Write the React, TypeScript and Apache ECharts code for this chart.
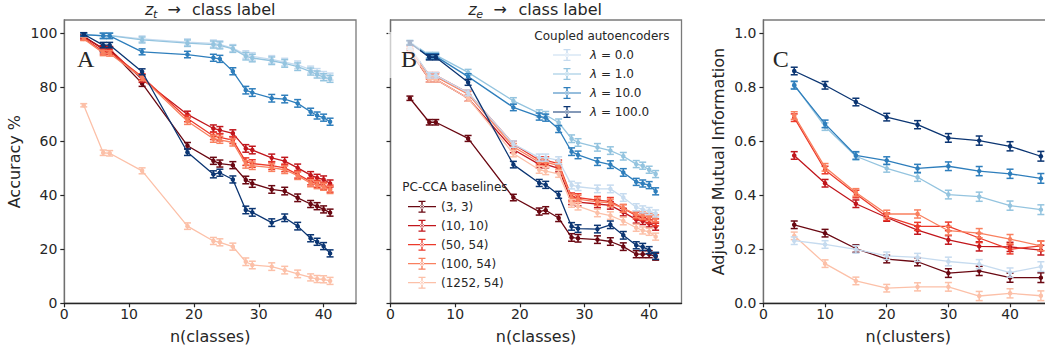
import React, { useEffect, useRef } from "react";
import * as echarts from "echarts";

const FONT = "DejaVu Sans";
const TXT = "#262626";

// x positions
const classesX = [3, 6, 7, 12, 19, 23, 24, 26, 28, 29, 32, 34, 36, 38, 39, 40, 41];
const clustersX = [5, 10, 15, 20, 25, 30, 35, 40, 45];

// tick labels
const ticksClasses = [0, 10, 20, 30, 40];
const ticksAcc = [0, 20, 40, 60, 80, 100];
const ticksAmi = [0, 0.2, 0.4, 0.6, 0.8, 1.0];

// series names
const lambdaNames = ["λ = 0.0", "λ = 1.0", "λ = 10.0", "λ = 100.0"];
const ccaNames = ["(3, 3)", "(10, 10)", "(50, 54)", "(100, 54)", "(1252, 54)"];

// Panel A: z_t -> class label (accuracy %)
const A_l0 = [99.6, 99.3, 99.3, 98.0, 96.8, 96.3, 96.0, 94.6, 92.2, 91.5, 90.4, 89.4, 88.4, 86.6, 85.7, 84.6, 84.0];
const A_l1 = [99.5, 99.2, 99.2, 97.6, 96.4, 95.9, 95.6, 94.3, 91.6, 90.9, 89.9, 88.9, 87.7, 85.9, 84.8, 83.8, 83.2];
const A_l10 = [99.6, 99.1, 99.1, 93.2, 92.2, 91.0, 90.6, 86.0, 79.0, 78.1, 76.0, 75.7, 74.1, 71.0, 69.6, 68.8, 67.3];
const A_l100 = [99.7, 95.7, 95.7, 85.8, 56.0, 47.8, 48.4, 45.9, 34.6, 33.7, 29.9, 31.7, 28.6, 24.1, 22.8, 21.2, 18.5];
const A_c3 = [99.0, 94.2, 94.0, 81.5, 58.4, 52.8, 51.8, 51.2, 45.7, 44.4, 42.2, 41.6, 39.1, 36.8, 36.0, 34.8, 33.6];
const A_c10 = [98.6, 94.5, 94.2, 83.0, 70.0, 64.8, 64.2, 63.0, 57.4, 56.8, 53.9, 52.7, 50.2, 47.5, 46.5, 45.9, 44.4];
const A_c50 = [98.2, 93.4, 93.2, 84.0, 68.5, 62.0, 61.5, 60.5, 52.5, 51.8, 51.0, 50.2, 47.8, 45.2, 44.3, 43.6, 42.5];
const A_c100 = [98.0, 92.8, 92.6, 83.6, 67.5, 61.0, 60.6, 59.6, 51.5, 51.0, 50.3, 49.5, 47.3, 44.5, 43.8, 43.2, 42.0];
const A_c1252 = [73.4, 55.8, 55.6, 49.1, 28.6, 23.1, 22.6, 21.0, 15.4, 14.2, 13.6, 12.3, 10.9, 9.6, 9.0, 8.9, 8.3];
const errA = [0.6, 1.0, 1.0, 1.1, 1.2, 1.3, 1.3, 1.3, 1.4, 1.4, 1.4, 1.4, 1.4, 1.3, 1.3, 1.3, 1.3];

// Panel B: z_e -> class label (accuracy %)
const B_l0 = [95.0, 84.5, 84.5, 78.0, 59.0, 54.0, 54.0, 53.0, 43.8, 43.2, 42.4, 42.4, 39.2, 35.6, 34.8, 34.2, 33.3];
const B_l1 = [96.8, 92.0, 92.0, 85.6, 75.0, 70.4, 69.8, 67.0, 61.0, 59.6, 57.8, 56.6, 54.5, 51.6, 51.0, 49.5, 47.9];
const B_l10 = [96.5, 91.5, 91.5, 84.0, 72.6, 69.2, 68.8, 64.6, 56.2, 55.0, 52.5, 51.4, 48.5, 45.0, 44.4, 43.8, 41.5];
const B_l100 = [96.5, 91.2, 91.2, 81.9, 51.4, 44.6, 43.9, 40.2, 28.5, 27.7, 27.5, 29.1, 25.2, 21.5, 20.9, 19.7, 17.6];
const B_c3 = [76.0, 67.1, 67.1, 61.1, 39.2, 34.0, 34.5, 31.6, 24.4, 24.1, 23.6, 22.9, 21.0, 18.2, 18.2, 18.2, 17.3];
const B_c10 = [93.5, 83.0, 83.0, 76.0, 57.0, 51.5, 51.5, 50.0, 38.0, 37.5, 36.8, 36.3, 33.8, 31.0, 30.5, 29.6, 28.4];
const B_c50 = [94.5, 84.5, 84.5, 78.0, 59.0, 53.0, 53.0, 51.8, 39.5, 39.2, 38.2, 37.8, 35.2, 32.5, 32.0, 31.0, 30.0];
const B_c100 = [95.0, 84.0, 84.0, 77.5, 58.0, 52.3, 52.3, 51.0, 39.0, 38.6, 37.6, 37.2, 35.2, 33.0, 32.5, 32.0, 31.5];
const B_c1252 = [94.0, 83.0, 83.0, 76.0, 55.5, 49.5, 49.0, 48.0, 37.0, 36.0, 33.5, 32.5, 30.5, 28.0, 27.0, 26.5, 24.7];
const errB = [0.8, 1.0, 1.0, 1.1, 1.2, 1.3, 1.3, 1.3, 1.4, 1.4, 1.4, 1.4, 1.4, 1.3, 1.3, 1.3, 1.3];

// Panel C: clustering (adjusted mutual information)
const C_l0 = [0.232, 0.218, 0.2, 0.176, 0.17, 0.155, 0.145, 0.114, 0.136];
const C_l1 = [0.81, 0.655, 0.545, 0.5, 0.467, 0.403, 0.395, 0.362, 0.347];
const C_l10 = [0.808, 0.665, 0.548, 0.529, 0.5, 0.508, 0.49, 0.48, 0.463];
const C_l100 = [0.861, 0.808, 0.746, 0.69, 0.662, 0.613, 0.603, 0.582, 0.545];
const C_c3 = [0.291, 0.26, 0.203, 0.164, 0.154, 0.112, 0.12, 0.095, 0.095];
const C_c10 = [0.548, 0.445, 0.369, 0.318, 0.271, 0.235, 0.211, 0.209, 0.197];
const C_c50 = [0.688, 0.494, 0.405, 0.321, 0.285, 0.285, 0.242, 0.2, 0.213];
const C_c100 = [0.696, 0.504, 0.411, 0.331, 0.331, 0.269, 0.26, 0.238, 0.213];
const C_c1252 = [0.25, 0.147, 0.083, 0.056, 0.061, 0.061, 0.027, 0.037, 0.028];
const errC = [0.014, 0.014, 0.014, 0.014, 0.015, 0.016, 0.017, 0.017, 0.018];

const lambdaColors = ["#c6dbef", "#94c4df", "#2e7ebc", "#0b3572"];
const ccaColors = ["#6a0812", "#c1161c", "#ec3a2b", "#f9805f", "#fcc0a8"];

const ERR_ICON =
  "path://M0,5.4H28V6.6H0Z M13.3,0H14.7V12H13.3Z M10.5,0H17.5V1.3H10.5Z M10.5,10.7H17.5V12H10.5Z M12,6A2,2,0,1,0,16,6A2,2,0,1,0,12,6Z";

type SetDef = { name: string; y: number[]; color: string };

function buildSeries(gi: number, xs: number[], sets: SetDef[], err: number[]) {
  const out: any[] = [];
  sets.forEach((s, k) => {
    out.push({
      type: "line",
      name: s.name,
      xAxisIndex: gi,
      yAxisIndex: gi,
      data: xs.map((x, i) => [x, s.y[i]]),
      symbol: "circle",
      symbolSize: 4.5,
      lineStyle: { color: s.color, width: 1.3 },
      itemStyle: { color: s.color, borderWidth: 0 },
      silent: true,
      z: 2 + k,
    });
    out.push({
      type: "custom",
      name: s.name + " err",
      xAxisIndex: gi,
      yAxisIndex: gi,
      silent: true,
      z: 2 + k,
      data: xs.map((x, i) => [x, s.y[i] - err[i], s.y[i] + err[i]]),
      encode: { x: 0, y: [1, 2] },
      renderItem: (params: any, api: any) => {
        const x = api.value(0);
        const lo = api.coord([x, api.value(1)]);
        const hi = api.coord([x, api.value(2)]);
        const w = 3.5;
        const st = { stroke: s.color, lineWidth: 1.5 };
        return {
          type: "group",
          children: [
            { type: "line", shape: { x1: lo[0], y1: lo[1], x2: hi[0], y2: hi[1] }, style: st },
            { type: "line", shape: { x1: lo[0] - w, y1: lo[1], x2: lo[0] + w, y2: lo[1] }, style: st },
            { type: "line", shape: { x1: hi[0] - w, y1: hi[1], x2: hi[0] + w, y2: hi[1] }, style: st },
          ],
        };
      },
    });
  });
  return out;
}

function mkSets(lam: number[][], cca: number[][]): SetDef[] {
  const a = lam.map((y, i) => ({ name: lambdaNames[i], y, color: lambdaColors[i] }));
  const b = cca.map((y, i) => ({ name: ccaNames[i], y, color: ccaColors[i] }));
  return [...b, ...a];
}

const grids = [
  { left: 64.3, top: 20, width: 291.7, height: 283.3 },
  { left: 390.5, top: 20, width: 291, height: 283.3 },
  { left: 763.4, top: 20, width: 289.8, height: 283.3 },
];

function xAxisDef(gi: number, max: number, name: string) {
  return {
    type: "value",
    gridIndex: gi,
    min: 0,
    max,
    name,
    nameLocation: "middle",
    nameGap: 25,
    nameTextStyle: { fontSize: 16, fontFamily: FONT, color: TXT },
    axisLine: { show: true, lineStyle: { color: "#262626", width: 1.3 } },
    axisTick: { show: true, inside: false, length: 4, customValues: ticksClasses, lineStyle: { color: "#262626", width: 1.2 } },
    axisLabel: { customValues: ticksClasses, fontSize: 14, fontFamily: FONT, color: TXT, margin: 4 },
    splitLine: { show: false },
  };
}

function yAxisDef(gi: number, max: number, ticks: number[], name: string, showLabel: boolean, fmt?: (v: number) => string) {
  return {
    type: "value",
    gridIndex: gi,
    min: 0,
    max,
    name,
    nameLocation: "middle",
    nameGap: gi === 2 ? 37 : 42,
    nameTextStyle: { fontSize: 16, fontFamily: FONT, color: TXT },
    axisLine: { show: true, lineStyle: { color: "#6f6f6f", width: 1.3 } },
    axisTick: { show: true, inside: false, length: 4, customValues: ticks, lineStyle: { color: "#262626", width: 1.2 } },
    axisLabel: {
      show: showLabel,
      customValues: ticks,
      fontSize: 14,
      fontFamily: FONT,
      color: TXT,
      margin: 7,
      formatter: fmt,
    },
    splitLine: { show: false },
  };
}

function legendDef(names: string[], left: number, top: number, padLeft: number) {
  return {
    orient: "vertical",
    left,
    top,
    data: names.map((n) => ({ name: n, icon: ERR_ICON })),
    itemWidth: 28,
    itemHeight: 12,
    itemGap: 7,
    selectedMode: false,
    padding: 0,
    itemStyle: { borderWidth: 0 },
    formatter: (n: string) => (n.startsWith("λ") ? "{i|λ}{t|" + n.slice(1) + "}" : "{t|" + n + "}"),
    textStyle: {
      fontSize: 12,
      fontFamily: FONT,
      color: TXT,
      rich: {
        i: { fontStyle: "italic", fontSize: 12, fontFamily: FONT, color: TXT, padding: [0, 0, 0, padLeft] },
        t: { fontSize: 12, fontFamily: FONT, color: TXT },
      },
    },
  };
}

function txt(text: string, x: number, y: number, size: number, opts: any = {}) {
  return {
    type: "text",
    x,
    y,
    z: 100,
    silent: true,
    style: {
      text,
      fontSize: size,
      fontFamily: opts.family || FONT,
      fontStyle: opts.italic ? "italic" : "normal",
      fill: TXT,
      textAlign: "left",
      textVerticalAlign: "middle",
    },
  };
}

export default function App() {
  const ref = useRef<HTMLDivElement>(null);
  useEffect(() => {
    if (!ref.current) return;
    const chart = echarts.init(ref.current, null, { renderer: "svg" });
    const series = [
      ...buildSeries(0, classesX, mkSets([A_l0, A_l1, A_l10, A_l100], [A_c3, A_c10, A_c50, A_c100, A_c1252]), errA),
      ...buildSeries(1, classesX, mkSets([B_l0, B_l1, B_l10, B_l100], [B_c3, B_c10, B_c50, B_c100, B_c1252]), errB),
      ...buildSeries(2, clustersX, mkSets([C_l0, C_l1, C_l10, C_l100], [C_c3, C_c10, C_c50, C_c100, C_c1252]), errC),
    ];
    const option: any = {
      animation: false,
      backgroundColor: "#ffffff",
      textStyle: { fontFamily: FONT },
      grid: grids.map((g) => ({ ...g, show: true, borderColor: "#7a7a7a", borderWidth: 1.3, backgroundColor: "transparent", outerBoundsMode: "none", containLabel: false })),
      xAxis: [xAxisDef(0, 45, "n(classes)"), xAxisDef(1, 45, "n(classes)"), xAxisDef(2, 47, "n(clusters)")],
      yAxis: [
        yAxisDef(0, 105, ticksAcc, "Accuracy %", true),
        yAxisDef(1, 105, ticksAcc, "", false),
        yAxisDef(2, 1.05, ticksAmi, "Adjusted Mutual Information", true, (v: number) => v.toFixed(1)),
      ],
      legend: [legendDef(lambdaNames, 553, 49, 4), legendDef(ccaNames, 408, 200.7, 0)],
      series,
      graphic: [
        // titles
        txt("z", 145, 9.5, 16, { italic: true }),
        txt("t", 153, 14.2, 11, { italic: true }),
        txt("→", 167.5, 9.5, 16),
        txt("class label", 192, 9.5, 16),
        txt("z", 468.3, 9.5, 16, { italic: true }),
        txt("e", 476.3, 14.2, 11, { italic: true }),
        txt("→", 493.5, 9.5, 16),
        txt("class label", 518.5, 9.5, 16),
        // panel B label box
        { type: "rect", z: 99, silent: true, shape: { x: 388, y: 32, width: 32, height: 46 }, style: { fill: "rgba(255,255,255,0.65)" } },
        // panel letters
        txt("A", 77, 59.2, 24, { family: "Liberation Serif" }),
        txt("B", 401, 59.2, 24, { family: "Liberation Serif" }),
        txt("C", 772.7, 58.6, 24, { family: "Liberation Serif" }),
        // legend titles
        txt("Coupled autoencoders", 534.3, 36.3, 12),
        txt("PC-CCA baselines", 402.3, 187.3, 12),
      ],
    };
    chart.setOption(option);
    return () => chart.dispose();
  }, []);
  return (
    <div
      ref={ref}
      style={{ position: "absolute", left: 0, top: 0, width: 1045, height: 351, overflow: "hidden", background: "#fff" }}
    />
  );
}
